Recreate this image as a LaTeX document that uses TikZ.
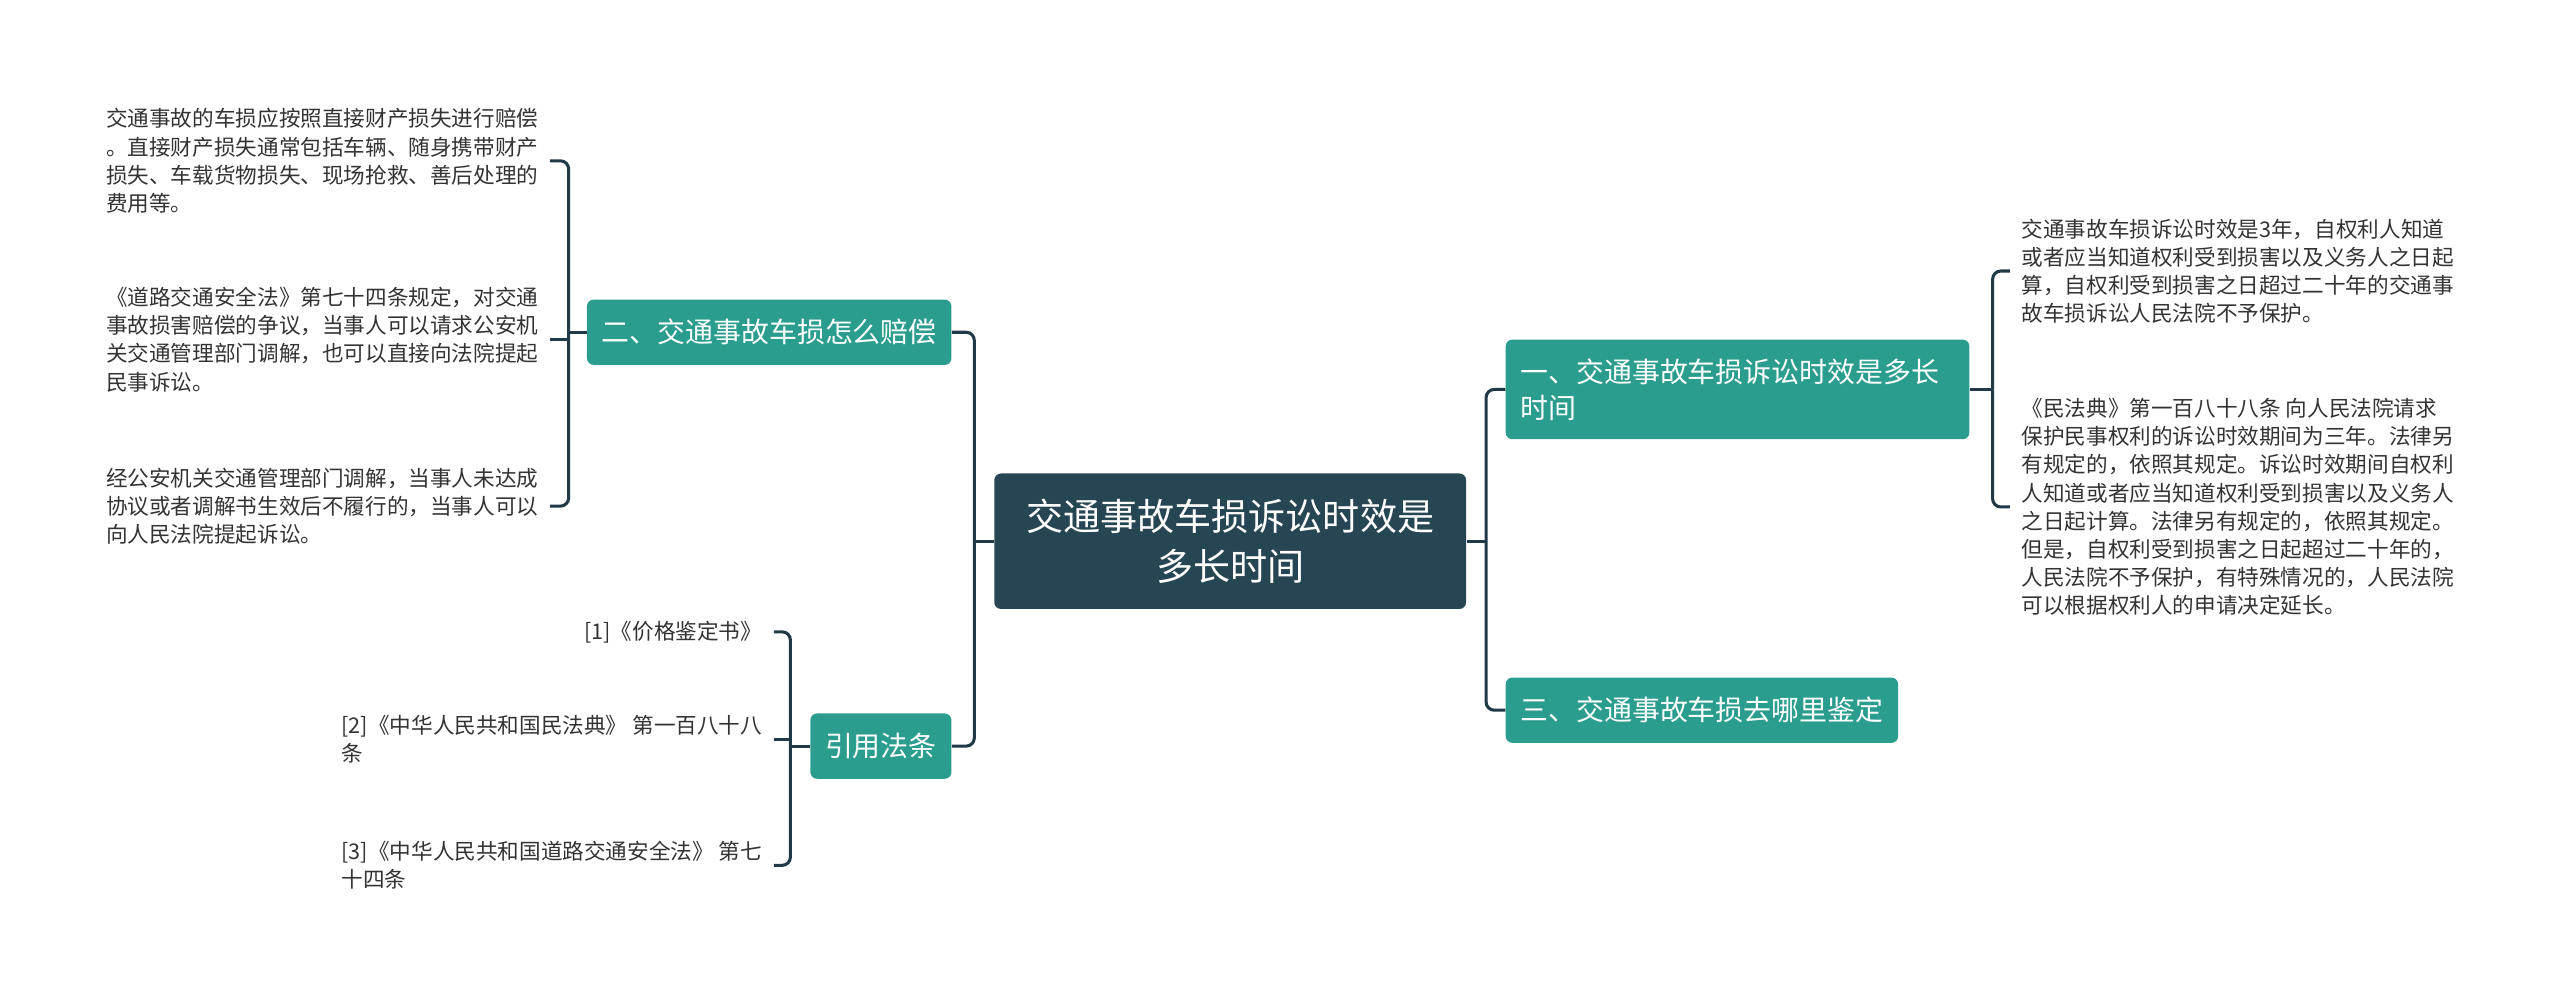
\documentclass[tikz,border=0pt]{standalone}
\usepackage{fontspec}
\setmainfont{Noto Sans CJK SC}
\usetikzlibrary{calc}
\definecolor{mapInk}{RGB}{38,70,83}
\definecolor{mapTeal}{RGB}{42,157,143}
\definecolor{mapLine}{RGB}{33,58,72}
\definecolor{mapText}{RGB}{51,51,51}
\tikzset{
  mroot/.style={rounded corners=3.5pt, fill=mapInk, text=white,
    align=center, font=\fontsize{19.4}{26.4}\selectfont,
    minimum width=8.67cm, minimum height=2.49cm, inner sep=0pt},
  mtopic/.style={rounded corners=3.5pt, fill=mapTeal, text=white,
    align=left, font=\fontsize{14.6}{18.7}\selectfont,
    minimum height=1.2cm, inner xsep=.27cm, inner ysep=0pt},
  mleaf/.style={text=mapText, align=left,
    font=\fontsize{11.3}{14.7}\selectfont, inner xsep=.21cm, inner ysep=0pt},
  mlink/.style={draw=mapLine, line width=1.6pt, rounded corners=.15cm}
}

\begin{document}
\begin{tikzpicture}
\path[use as bounding box] (0,0) rectangle (47.04,-18.33);

% root and first level
\node[mroot] (root) at (22.605,-9.945) {交通事故车损诉讼时效是\\多长时间};
\node[mtopic, anchor=west, text width=7.98cm, minimum height=1.83cm] (one)
  at (27.66,-7.155) {一、交通事故车损诉讼时效是多长\\时间};
\node[mtopic, anchor=west] (three) at (27.66,-13.05) {三、交通事故车损去哪里鉴定};
\node[mtopic, anchor=east] (two) at (17.49,-6.105) {二、交通事故车损怎么赔偿};
\node[mtopic, anchor=east] (cite) at (17.49,-13.71) {引用法条};

% leaves of one
\node[mleaf, anchor=west] (ra) at (36.93,-4.98)
  {交通事故车损诉讼时效是3年，自权利人知道\\
   或者应当知道权利受到损害以及义务人之日起\\
   算，自权利受到损害之日超过二十年的交通事\\
   故车损诉讼人民法院不予保护。};
\node[mleaf, anchor=west] (rb) at (36.93,-9.315)
  {《民法典》第一百八十八条 向人民法院请求\\
   保护民事权利的诉讼时效期间为三年。法律另\\
   有规定的，依照其规定。诉讼时效期间自权利\\
   人知道或者应当知道权利受到损害以及义务人\\
   之日起计算。法律另有规定的，依照其规定。\\
   但是，自权利受到损害之日起超过二十年的，\\
   人民法院不予保护，有特殊情况的，人民法院\\
   可以根据权利人的申请决定延长。};

% leaves of two
\node[mleaf, anchor=east] (la) at (10.11,-2.955)
  {交通事故的车损应按照直接财产损失进行赔偿\\
   。直接财产损失通常包括车辆、随身携带财产\\
   损失、车载货物损失、现场抢救、善后处理的\\
   费用等。};
\node[mleaf, anchor=east] (lb) at (10.11,-6.24)
  {《道路交通安全法》第七十四条规定，对交通\\
   事故损害赔偿的争议，当事人可以请求公安机\\
   关交通管理部门调解，也可以直接向法院提起\\
   民事诉讼。};
\node[mleaf, anchor=east] (lc) at (10.11,-9.3)
  {经公安机关交通管理部门调解，当事人未达成\\
   协议或者调解书生效后不履行的，当事人可以\\
   向人民法院提起诉讼。};

% leaves of cite
\node[mleaf, anchor=east] (c1) at (14.22,-11.61) {[1]《价格鉴定书》};
\node[mleaf, anchor=east] (c2) at (14.22,-13.59)
  {[2]《中华人民共和国民法典》 第一百八十八\\条};
\node[mleaf, anchor=east] (c3) at (14.22,-15.9)
  {[3]《中华人民共和国道路交通安全法》 第七\\十四条};

% connectors
\coordinate (rj) at ($(root.east)+(.36,0)$);
\coordinate (lj) at ($(root.west)+(-.36,0)$);
\coordinate (oj) at ($(one.east)+(.42,0)$);
\coordinate (tj) at ($(two.west)+(-.33,0)$);
\coordinate (cj) at ($(cite.west)+(-.36,0)$);

\draw[mlink] (root.east) -- (rj);
\draw[mlink] (rj) |- (one.west);
\draw[mlink] (rj) |- (three.west);
\draw[mlink] (root.west) -- (lj);
\draw[mlink] (lj) |- (two.east);
\draw[mlink] (lj) |- (cite.east);

\draw[mlink] (one.east) -- (oj);
\draw[mlink] (oj) |- (ra.west);
\draw[mlink] (oj) |- (rb.west);

\draw[mlink] (two.west) -- (tj);
\draw[mlink] (tj) |- (la.east);
\draw[mlink] (lb.east) -- (lb.east -| tj);
\draw[mlink] (tj) |- (lc.east);

\draw[mlink] (cite.west) -- (cj);
\draw[mlink] (cj) |- (c1.east);
\draw[mlink] (c2.east) -- (c2.east -| cj);
\draw[mlink] (cj) |- (c3.east);
\end{tikzpicture}
\end{document}
